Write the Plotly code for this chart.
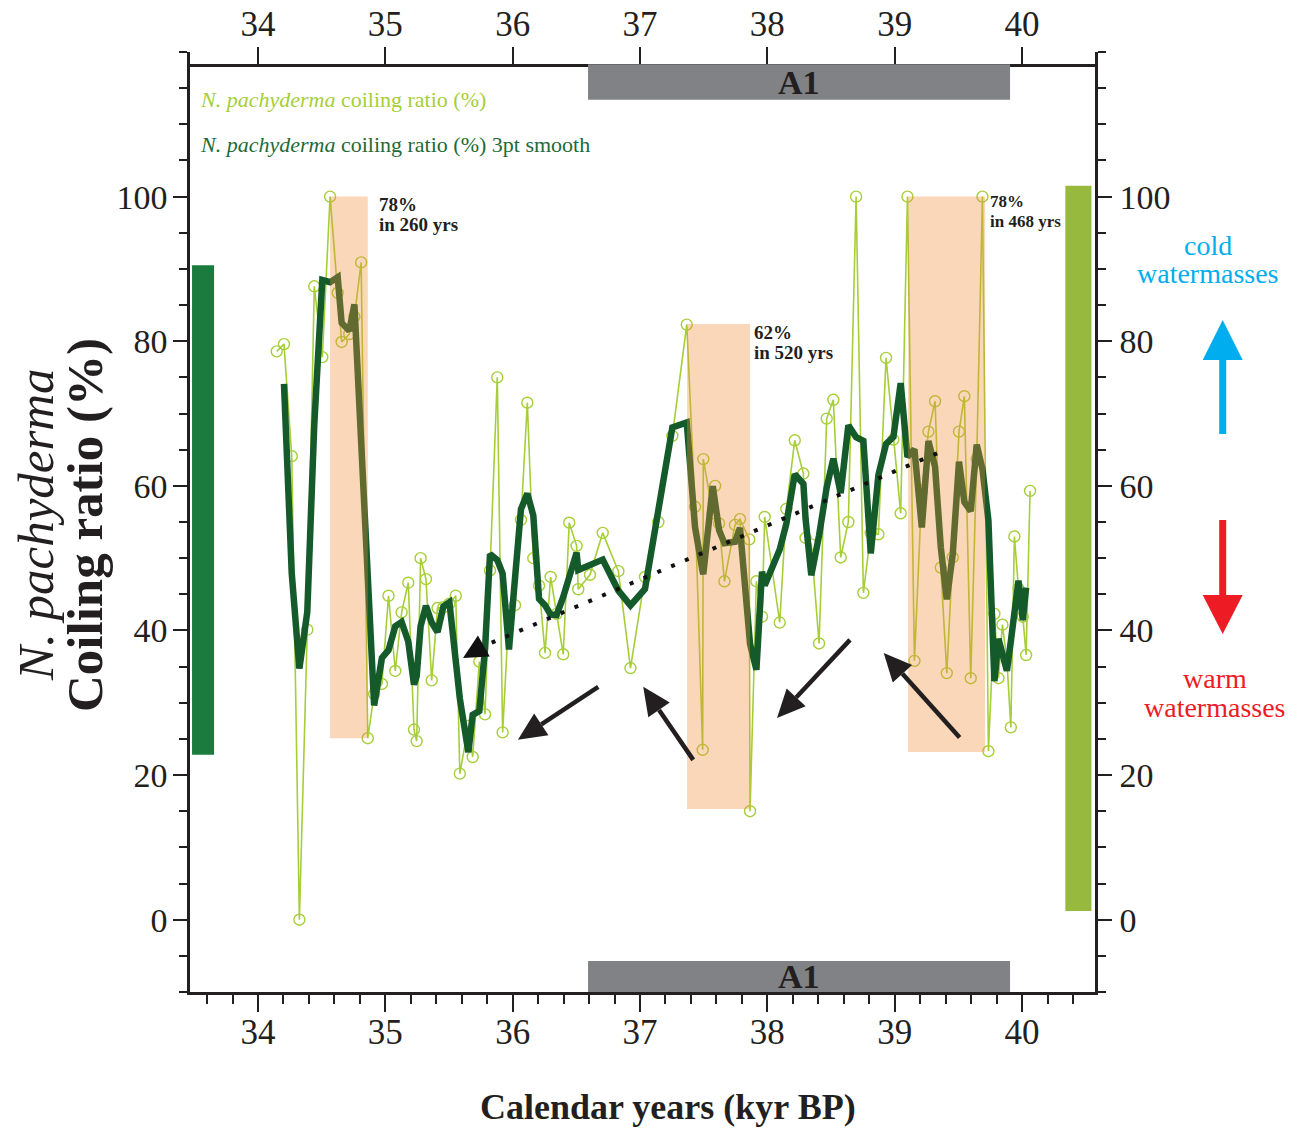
import plotly.graph_objects as go
import pandas as pd

# Calendar age (kyr BP) of each sample
age_kyr = [
    34.147, 34.204, 34.265, 34.325, 34.387, 34.442, 34.505, 34.566, 34.626, 34.657,
    34.717, 34.757, 34.810, 34.862, 34.912, 34.973, 35.025, 35.078, 35.128, 35.180,
    35.225, 35.246, 35.277, 35.319, 35.364, 35.410, 35.456, 35.503, 35.553, 35.585,
    35.652, 35.686, 35.738, 35.783, 35.822, 35.879, 35.921, 35.971, 36.018, 36.065,
    36.115, 36.162, 36.207, 36.254, 36.298, 36.345, 36.397, 36.444, 36.502, 36.515,
    36.607, 36.707, 36.830, 36.925, 37.039, 37.144, 37.254, 37.367, 37.432, 37.492,
    37.497, 37.571, 37.590, 37.621, 37.663, 37.746, 37.785, 37.858, 37.864, 37.914,
    37.958, 37.979, 38.097, 38.149, 38.215, 38.283, 38.300, 38.345, 38.406, 38.466,
    38.518, 38.576, 38.636, 38.697, 38.754, 38.812, 38.872, 38.932, 38.990, 39.047,
    39.100, 39.155, 39.213, 39.265, 39.317, 39.362, 39.409, 39.456, 39.505, 39.547,
    39.597, 39.644, 39.689, 39.736, 39.783, 39.815, 39.846, 39.881, 39.912, 39.940,
    39.972, 40.006, 40.032, 40.063,
]

# N. pachyderma coiling ratio (%)
coiling_pct = [
    78.6, 79.6, 64.1, 0.0, 40.1, 87.6, 77.8, 100.0, 86.7, 79.9,
    81.0, 83.4, 90.9, 25.1, 31.2, 32.6, 44.8, 34.4, 42.5, 46.6,
    26.3, 24.7, 50.0, 47.1, 33.1, 43.1, 43.2, 43.7, 44.8, 20.2,
    26.8, 22.5, 35.7, 28.4, 48.3, 75.0, 25.9, 42.7, 43.5, 55.3,
    71.5, 50.0, 46.2, 36.9, 47.4, 42.3, 36.7, 54.9, 51.7, 45.7,
    47.7, 53.5, 48.2, 34.8, 47.4, 55.0, 66.9, 82.3, 57.1, 23.5,
    63.7, 56.2, 60.0, 54.8, 46.8, 54.6, 55.4, 52.6, 15.0, 46.8,
    41.9, 55.7, 41.1, 56.8, 66.3, 61.7, 52.8, 51.9, 38.2, 69.3,
    71.9, 50.1, 55.0, 100.0, 45.2, 53.5, 53.3, 77.7, 66.4, 56.2,
    100.0, 35.8, 59.4, 67.5, 71.7, 48.7, 34.1, 50.1, 67.5, 72.4,
    33.4, 63.7, 100.0, 23.3, 42.3, 33.4, 40.8, 35.9, 26.6, 53.0,
    45.8, 41.9, 36.6, 59.3,
]

# 3-point running mean of the coiling ratio
smooth_pct = pd.Series(coiling_pct).rolling(3, center=True).mean().tolist()

x_ticks = [34, 35, 36, 37, 38, 39, 40]
y_ticks = [0, 20, 40, 60, 80, 100]

# Rapid transitions: (start kyr, end kyr, low %, high %, amplitude, duration)
transitions = [
    (34.566, 34.862, 25.1, 100.0, "78%", "in 260 yrs"),
    (37.369, 37.864, 15.3, 82.4, "62%", "in 520 yrs"),
    (39.105, 39.710, 23.2, 100.0, "78%", "in 468 yrs"),
]
# label anchor (kyr, %) and font size for each transition
label_pos = [(34.935, 98.9, 19), (37.880, 81.2, 19), (39.733, 99.3, 17)]

# Interstadial A1 span (kyr)
a1_span = (36.592, 39.906)

# Trend line (start, end) and shift arrows (tail, tip) in kyr / %
trend_line = ((39.333, 64.5), (35.775, 37.86))
trend_tip = (35.61, 36.2)
shift_arrows = [
    ((36.672, 32.2), (36.041, 24.9)),
    ((37.418, 22.1), (37.025, 32.2)),
    ((38.649, 38.7), (38.076, 27.9)),
    ((39.510, 25.2), (38.914, 36.9)),
]

INK = "#231F20"
LIGHT = "#A6CE39"
DARK = "#155A2B"
SERIF = "Liberation Serif, Times New Roman, serif"

X0, X1 = 33.466, 40.573
Y0, Y1 = -10, 120
ML, MR, MT, MB = 190, 208, 52, 136
W, H = 1303, 1128
PW, PH = W - ML - MR, H - MT - MB


def to_px(x, y):
    return (x - X0) / (X1 - X0) * PW, (y - Y0) / (Y1 - Y0) * PH


def to_data(px, py):
    return X0 + px / PW * (X1 - X0), Y0 + py / PH * (Y1 - Y0)


def arrow_head(tail, tip, length, half):
    """Filled triangle (in data units) for an arrow from tail to tip."""
    tx, ty = to_px(*tail)
    hx, hy = to_px(*tip)
    dx, dy = hx - tx, hy - ty
    d = (dx * dx + dy * dy) ** 0.5
    ux, uy = dx / d, dy / d
    bx, by = hx - ux * length, hy - uy * length
    nx, ny = -uy, ux
    pts = [(hx, hy), (bx + nx * half, by + ny * half), (bx - nx * half, by - ny * half)]
    pts = [to_data(*p) for p in pts]
    base = to_data(bx, by)
    path = "M {} {} L {} {} L {} {} Z".format(*[v for p in pts for v in p])
    return path, base


def paper(px, py):
    return (px - ML) / PW, (MT + PH - py) / PH


fig = go.Figure()

# raw coiling ratio with open circles
fig.add_trace(go.Scatter(
    x=age_kyr, y=coiling_pct, mode="lines+markers",
    line=dict(color=LIGHT, width=1.6),
    marker=dict(symbol="circle-open", size=11, color=LIGHT, line=dict(width=1.4, color=LIGHT)),
    showlegend=False, hoverinfo="skip",
))
# smoothed curve
fig.add_trace(go.Scatter(
    x=age_kyr, y=smooth_pct, mode="lines",
    line=dict(color=DARK, width=6.5),
    showlegend=False, hoverinfo="skip",
))
# carriers for the top and right axes
fig.add_trace(go.Scatter(x=[X0], y=[Y0], xaxis="x2", yaxis="y", mode="markers",
                         marker=dict(opacity=0), showlegend=False, hoverinfo="skip"))
fig.add_trace(go.Scatter(x=[X0], y=[Y0], xaxis="x", yaxis="y2", mode="markers",
                         marker=dict(opacity=0), showlegend=False, hoverinfo="skip"))

shapes = []
annotations = []

# transition boxes, tinted over the curves
for (x0, x1, lo, hi, amp, dur), (lx, ly, fs) in zip(transitions, label_pos):
    shapes.append(dict(type="rect", xref="x", yref="y", x0=x0, x1=x1, y0=lo, y1=hi,
                       fillcolor="rgb(241,141,55)", opacity=0.35, line=dict(width=0),
                       layer="above"))
    for k, line_text in enumerate([amp, dur]):
        annotations.append(dict(x=lx, y=ly - k * 2.75, xref="x", yref="y",
                                xanchor="left", yanchor="middle",
                                text="<b>" + line_text + "</b>", showarrow=False,
                                font=dict(family=SERIF, size=fs, color=INK)))

# A1 bars at top and bottom
for lo, hi, ty in [(113.4, 118.3, 115.8), (-10.0, -5.7, -7.9)]:
    shapes.append(dict(type="rect", xref="x", yref="y", x0=a1_span[0], x1=a1_span[1],
                       y0=lo, y1=hi, fillcolor="#808285", line=dict(width=0), layer="above"))
    annotations.append(dict(x=(a1_span[0] + a1_span[1]) / 2, y=ty, xref="x", yref="y",
                            xanchor="center", yanchor="middle",
                            text="<b>A1</b>", showarrow=False,
                            font=dict(family=SERIF, size=34, color=INK)))

# range bars beside the axes
shapes.append(dict(type="rect", xref="x", yref="y", x0=33.482, x1=33.655, y0=22.8, y1=90.5,
                   fillcolor="#1B7A3E", line=dict(width=0), layer="below"))
shapes.append(dict(type="rect", xref="x", yref="y", x0=40.340, x1=40.545, y0=1.2, y1=101.5,
                   fillcolor="#97B93D", line=dict(width=0), layer="below"))

# dotted trend line with arrowhead
path, base = arrow_head(trend_line[1], trend_tip, 24, 12)
shapes.append(dict(type="line", xref="x", yref="y", x0=trend_line[0][0], y0=trend_line[0][1],
                   x1=base[0], y1=base[1], line=dict(color="#111111", width=4, dash="4px,11px"),
                   layer="above"))
shapes.append(dict(type="path", xref="x", yref="y", path=path, fillcolor="#111111",
                   line=dict(width=0), layer="above"))

# solid shift arrows
for tail, tip in shift_arrows:
    path, base = arrow_head(tail, tip, 28, 13)
    shapes.append(dict(type="line", xref="x", yref="y", x0=tail[0], y0=tail[1],
                       x1=base[0], y1=base[1], line=dict(color=INK, width=4.5), layer="above"))
    shapes.append(dict(type="path", xref="x", yref="y", path=path, fillcolor=INK,
                       line=dict(width=0), layer="above"))

# cold / warm arrows to the right of the plot
for (shaft_top, shaft_bot, base_y, tip_y, color) in [
    (360, 434, 360, 320, "#00AEEF"),
    (520, 595, 595, 634, "#ED1C24"),
]:
    ax0, ay0 = paper(1219.2, shaft_top)
    ax1, ay1 = paper(1226.2, shaft_bot)
    shapes.append(dict(type="rect", xref="paper", yref="paper", x0=ax0, x1=ax1, y0=ay0, y1=ay1,
                       fillcolor=color, line=dict(width=0)))
    t = paper(1222.7, tip_y)
    b1 = paper(1202.7, base_y)
    b2 = paper(1242.7, base_y)
    shapes.append(dict(type="path", xref="paper", yref="paper",
                       path=f"M {t[0]} {t[1]} L {b1[0]} {b1[1]} L {b2[0]} {b2[1]} Z",
                       fillcolor=color, line=dict(width=0)))

for text, px, py, color in [
    ("cold", 1208, 245, "#00AEEF"), ("watermasses", 1208, 274, "#00AEEF"),
    ("warm", 1215, 679, "#ED1C24"), ("watermasses", 1215, 707, "#ED1C24"),
]:
    x, y = paper(px, py)
    annotations.append(dict(x=x, y=y, xref="paper", yref="paper", text=text, showarrow=False,
                            xanchor="center", yanchor="middle",
                            font=dict(family=SERIF, size=28, color=color)))

# series labels
for text, py, color in [
    ("<i>N. pachyderma</i> coiling ratio (%)", 100, LIGHT),
    ("<i>N. pachyderma</i> coiling ratio (%) 3pt smooth", 144, "#1D6B37"),
]:
    x, y = paper(198, py)
    annotations.append(dict(x=x, y=y, xref="paper", yref="paper", xanchor="left",
                            yanchor="middle", text=text, showarrow=False,
                            font=dict(family=SERIF, size=22, color=color)))

# axis titles
for text, px in [("<i>N. pachyderma</i>", 36), ("<b>Coiling ratio (%)</b>", 85)]:
    x, y = paper(px, 525)
    annotations.append(dict(x=x, y=y, xref="paper", yref="paper", text=text, textangle=-90,
                            xanchor="center", yanchor="middle", showarrow=False,
                            font=dict(family=SERIF, size=51, color=INK)))
x, y = paper(668, 1107)
annotations.append(dict(x=x, y=y, xref="paper", yref="paper", text="<b>Calendar years (kyr BP)</b>",
                        xanchor="center", yanchor="middle", showarrow=False,
                        font=dict(family=SERIF, size=36, color=INK)))

x_font = dict(family=SERIF, size=35, color=INK)
y_font = dict(family=SERIF, size=34, color=INK)
axis_common = dict(showgrid=False, zeroline=False, showline=True, linecolor=INK, linewidth=2.5,
                   ticks="outside", tickcolor=INK, tickwidth=2, automargin=False)
y_minor = dict(dtick=5, tick0=0, ticks="outside", ticklen=8, tickcolor=INK, tickwidth=2)

fig.update_layout(
    width=W, height=H,
    margin=dict(l=ML, r=MR, t=MT, b=MB, autoexpand=False),
    paper_bgcolor="white", plot_bgcolor="white",
    xaxis=dict(range=[X0, X1], tickvals=x_ticks, ticklen=17, ticklabelstandoff=-10, tickfont=x_font,
               minor=dict(dtick=0.2, tick0=0, ticks="outside", ticklen=9, tickcolor=INK, tickwidth=2),
               **axis_common),
    xaxis2=dict(range=[X0, X1], tickvals=x_ticks, ticklen=17, overlaying="x", side="top",
                anchor="free", position=(MT + PH - 65) / PH, ticklabelstandoff=-3,
                tickfont=x_font, **axis_common),
    yaxis=dict(range=[Y0, Y1], tickvals=y_ticks, ticklen=14, ticklabelstandoff=-1, tickfont=y_font,
               minor=y_minor, **axis_common),
    yaxis2=dict(range=[Y0, Y1], tickvals=y_ticks, ticklen=14, overlaying="y", side="right",
                ticklabelstandoff=1, tickfont=y_font, minor=y_minor, **axis_common),
    shapes=shapes,
    annotations=annotations,
    showlegend=False,
)

fig.write_html("out.html")
